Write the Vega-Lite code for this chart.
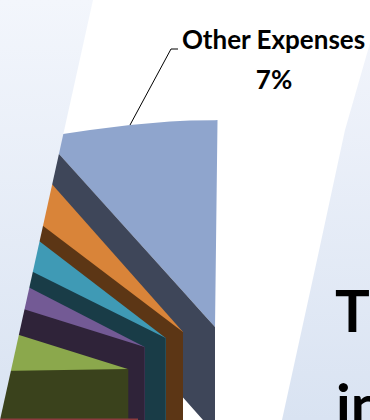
{
  "$schema": "https://vega.github.io/schema/vega-lite/v6.json",
  "width": 370,
  "height": 420,
  "autosize": {"type": "fit", "contains": "padding"},
  "padding": 0,
  "background": "#ffffff",
  "view": {"stroke": null},
  "config": {"axis": {"disable": true}},
  "datasets": {
    "slices": [
      {"slice": "Other Expenses", "x": 45, "y": 138, "y2": 138.5},
      {"slice": "Other Expenses", "x": 63, "y": 134, "y2": 158.4},
      {"slice": "Other Expenses", "x": 90, "y": 130, "y2": 188.4},
      {"slice": "Other Expenses", "x": 130, "y": 125, "y2": 232.7},
      {"slice": "Other Expenses", "x": 170, "y": 121.5, "y2": 277.1},
      {"slice": "Other Expenses", "x": 190, "y": 120.5, "y2": 299.3},
      {"slice": "Other Expenses", "x": 215, "y": 120.2, "y2": 327},
      {"slice": "Other Expenses", "x": 217.5, "y": 120, "y2": 121},
      {"slice": "Other Expenses wall", "x": 45, "y": 138.5, "y2": 260},
      {"slice": "Other Expenses wall", "x": 183.5, "y": 292, "y2": 398},
      {"slice": "Other Expenses wall", "x": 203, "y": 313.7, "y2": 420},
      {"slice": "Other Expenses wall", "x": 215, "y": 327, "y2": 420},
      {"slice": "Orange", "x": 35, "y": 165, "y2": 420},
      {"slice": "Orange", "x": 183, "y": 332, "y2": 420},
      {"slice": "Orange wall", "x": 30, "y": 215.9, "y2": 420},
      {"slice": "Orange wall", "x": 183, "y": 332, "y2": 420},
      {"slice": "Teal", "x": 28, "y": 232.5, "y2": 420},
      {"slice": "Teal", "x": 165.7, "y": 338, "y2": 420},
      {"slice": "Teal wall", "x": 20, "y": 265.4, "y2": 420},
      {"slice": "Teal wall", "x": 165.7, "y": 338, "y2": 420},
      {"slice": "Purple", "x": 15, "y": 280.3, "y2": 420},
      {"slice": "Purple", "x": 144.7, "y": 347, "y2": 420},
      {"slice": "Purple wall", "x": 5, "y": 303.2, "y2": 420},
      {"slice": "Purple wall", "x": 144.7, "y": 347, "y2": 420},
      {"slice": "Green", "x": 0, "y": 329, "y2": 420},
      {"slice": "Green", "x": 127.7, "y": 369, "y2": 420},
      {"slice": "Green wall", "x": 0, "y": 371.1, "y2": 420},
      {"slice": "Green wall", "x": 128.3, "y": 369, "y2": 420},
      {"slice": "Red", "x": 0, "y": 418.5, "y2": 420},
      {"slice": "Red", "x": 138, "y": 418.5, "y2": 420}
    ],
    "leftPanel": [
      {"x": 0, "y": 0, "y2": 420},
      {"x": 93, "y": 0, "y2": 0}
    ],
    "rightPanel": [
      {"x": 282, "y": 420, "y2": 420},
      {"x": 317, "y": 260, "y2": 420},
      {"x": 345, "y": 130, "y2": 420},
      {"x": 370, "y": 43, "y2": 420}
    ],
    "leader": [
      {"x": 130, "y": 125, "step": 1},
      {"x": 171, "y": 49, "step": 2},
      {"x": 178, "y": 49, "step": 3}
    ],
    "labels": [
      {"text": "Other Expenses", "x": 273.5, "y": 49},
      {"text": "7%", "x": 274, "y": 89}
    ],
    "slideText": [
      {"text": "T", "x": 335, "y": 332},
      {"text": "in", "x": 336, "y": 426}
    ]
  },
  "encoding": {
    "x": {"field": "x", "type": "quantitative", "scale": {"domain": [0, 370], "nice": false, "zero": false}, "axis": null},
    "y": {"field": "y", "type": "quantitative", "scale": {"domain": [420, 0], "nice": false, "zero": false}, "axis": null}
  },
  "layer": [
    {
      "data": {"name": "rightPanel"},
      "mark": {
        "type": "area",
        "clip": true,
        "color": {
          "gradient": "linear", "x1": 0, "y1": 0, "x2": 0, "y2": 1,
          "stops": [{"offset": 0, "color": "#f1f4fb"}, {"offset": 1, "color": "#d9e3f2"}]
        }
      },
      "encoding": {"y2": {"field": "y2"}}
    },
    {
      "data": {"name": "slices"},
      "mark": {"type": "area", "clip": true, "opacity": 1},
      "encoding": {
        "y2": {"field": "y2"},
        "color": {
          "field": "slice",
          "type": "nominal",
          "legend": null,
          "sort": null,
          "scale": {
            "domain": ["Other Expenses", "Other Expenses wall", "Orange", "Orange wall", "Teal", "Teal wall", "Purple", "Purple wall", "Green", "Green wall", "Red"],
            "range": ["#8fa5cd", "#3e4659", "#d98439", "#5c3615", "#3f9ab5", "#193c47", "#735a95", "#2f2339", "#8ba84c", "#3a421c", "#8c3b3f"]
          }
        }
      }
    },
    {
      "data": {"name": "leftPanel"},
      "mark": {
        "type": "area",
        "clip": true,
        "color": {
          "gradient": "linear", "x1": 0, "y1": 0, "x2": 0, "y2": 1,
          "stops": [{"offset": 0, "color": "#f3f6fc"}, {"offset": 1, "color": "#d9e3f2"}]
        }
      },
      "encoding": {"y2": {"field": "y2"}}
    },
    {
      "data": {"name": "leader"},
      "mark": {"type": "line", "color": "#000000", "strokeWidth": 1, "clip": true},
      "encoding": {"order": {"field": "step", "type": "ordinal"}}
    },
    {
      "data": {"name": "labels"},
      "mark": {"type": "text", "font": "Lato", "fontWeight": "bold", "fontSize": 26, "align": "center", "baseline": "alphabetic", "color": "#000000", "clip": true},
      "encoding": {"text": {"field": "text"}}
    },
    {
      "data": {"name": "slideText"},
      "mark": {"type": "text", "font": "Lato", "fontWeight": "bold", "fontSize": 58, "align": "left", "baseline": "alphabetic", "color": "#000000", "clip": true},
      "encoding": {"text": {"field": "text"}}
    }
  ]
}
